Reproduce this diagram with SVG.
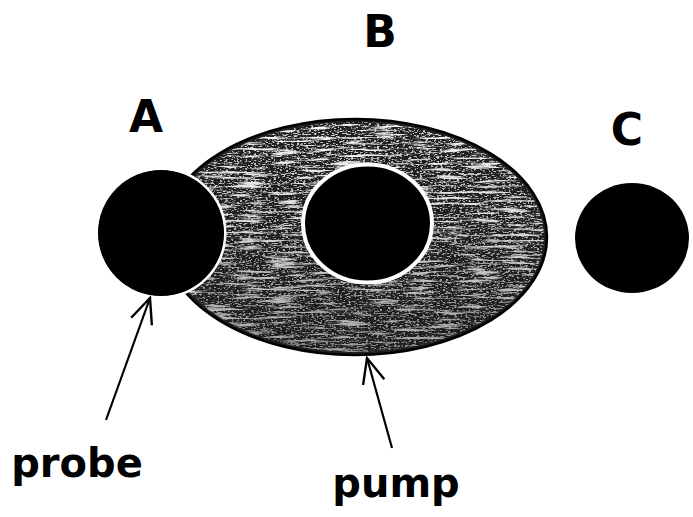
<svg xmlns="http://www.w3.org/2000/svg" width="693" height="517" viewBox="0 0 693 517">
  <style>
    .lbl { font-family: "DejaVu Sans", "Liberation Sans", sans-serif; font-weight: bold; fill: #000; text-anchor: middle; }
    .cap { font-size: 44px; }
    .word { font-size: 40px; }
    .conn { stroke: #000; stroke-width: 2.2; fill: none; }
    .solid { fill: #000; }
  </style>
  <defs>
    <marker id="arrow" markerUnits="userSpaceOnUse" markerWidth="40" markerHeight="40" refX="0" refY="0" viewBox="-30 -20 40 40" orient="auto">
      <path d="M-25,-11 L0,0 L-25,11" fill="none" stroke="#000" stroke-width="2.4"/>
    </marker>
    <filter id="speckle" filterUnits="userSpaceOnUse" x="150" y="110" width="410" height="260">
      <feTurbulence type="fractalNoise" baseFrequency="0.03 0.35" numOctaves="3" seed="11" result="n"/>
      <feColorMatrix in="n" type="matrix" values="0 0 0 0 1  0 0 0 0 1  0 0 0 0 1  5 0 0 0 -2.55" result="w"/>
      <feComposite in="w" in2="SourceGraphic" operator="in"/>
    </filter>
    <filter id="grain" filterUnits="userSpaceOnUse" x="150" y="110" width="410" height="260">
      <feTurbulence type="fractalNoise" baseFrequency="0.35 0.9" numOctaves="2" seed="4" result="n"/>
      <feColorMatrix in="n" type="matrix" values="0 0 0 0 1  0 0 0 0 1  0 0 0 0 1  8 0 0 0 -4.2" result="w"/>
      <feComposite in="w" in2="SourceGraphic" operator="in"/>
    </filter>
    <linearGradient id="fade" x1="0" y1="0" x2="0" y2="1">
      <stop offset="0" stop-color="#fff" stop-opacity="1"/>
      <stop offset="0.4" stop-color="#fff" stop-opacity="0.85"/>
      <stop offset="1" stop-color="#fff" stop-opacity="0.55"/>
    </linearGradient>
    <mask id="fadeMask" maskUnits="userSpaceOnUse" x="150" y="110" width="410" height="260">
      <rect x="150" y="110" width="410" height="260" fill="url(#fade)"/>
    </mask>
  </defs>

  <rect x="0" y="0" width="693" height="517" fill="#fff"/>

  <g id="node-B">
    <ellipse cx="355" cy="237" rx="192" ry="118" fill="#1e1e1e" stroke="#000" stroke-width="2.5"/>
    <g mask="url(#fadeMask)">
      <ellipse cx="355" cy="237" rx="189" ry="115" fill="#fff" filter="url(#speckle)"/>
      <ellipse cx="355" cy="237" rx="189" ry="115" fill="#fff" filter="url(#grain)" opacity="0.8"/>
    </g>
    <ellipse cx="367.5" cy="223.5" rx="64.5" ry="59" class="solid" stroke="#fff" stroke-width="4"/>
    <text class="lbl cap" x="380" y="47">B</text>
  </g>

  <g id="node-A">
    <circle cx="161" cy="233" r="64" class="solid" stroke="#fff" stroke-width="3"/>
    <circle cx="161" cy="233" r="63" class="solid"/>
    <text class="lbl cap" x="146" y="132">A</text>
  </g>

  <g id="node-C">
    <ellipse cx="632" cy="238" rx="57" ry="55" class="solid"/>
    <text class="lbl cap" x="627" y="145">C</text>
  </g>

  <g id="connectors">
    <line class="conn" x1="106" y1="420" x2="150" y2="298" marker-end="url(#arrow)"/>
    <line class="conn" x1="392" y1="448" x2="367" y2="358" marker-end="url(#arrow)"/>
  </g>

  <g id="labels">
    <text class="lbl word" x="77" y="477">probe</text>
    <text class="lbl word" x="396" y="497">pump</text>
  </g>
</svg>
